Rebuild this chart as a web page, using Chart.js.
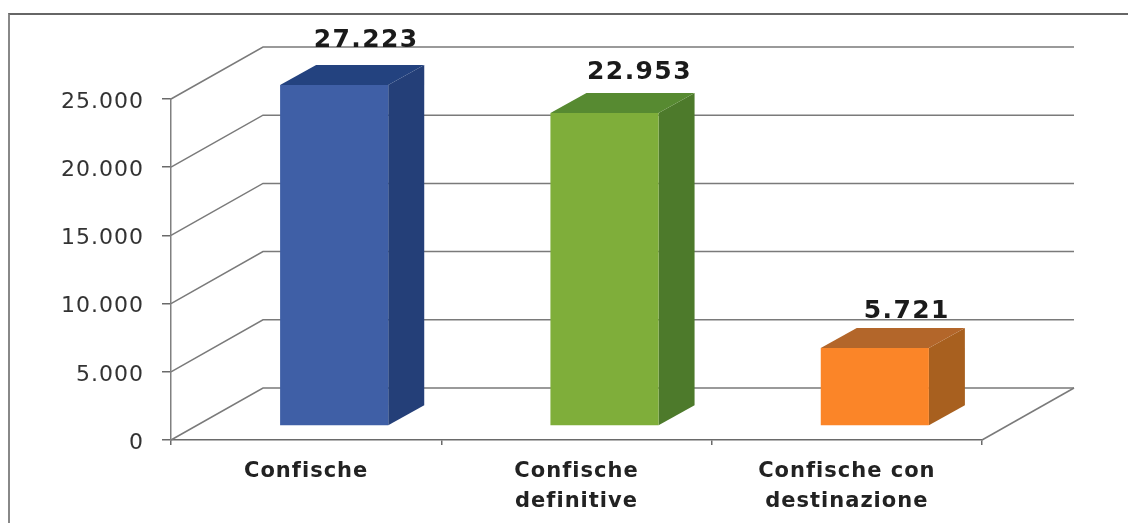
<!DOCTYPE html>
<html>
<head>
<meta charset="utf-8">
<style>
  html, body { margin: 0; padding: 0; background: #fff; overflow: hidden; }
  #frame { position: absolute; left: 8px; top: 13px; right: -5px; bottom: -5px; border-top: 2px solid #666; border-left: 2px solid #888; }
  #chart { position: absolute; left: 0; top: 0; filter: blur(0.5px); }
</style>
<script src="https://cdn.jsdelivr.net/npm/chart.js@4"></script>
</head>
<body>
<div id="frame"></div>
<canvas id="chart" width="1128" height="523"></canvas>
<script>
const categories = [["Confische"], ["Confische", "definitive"], ["Confische con", "destinazione"]];
const confischeValues = [27223, 22953, 5721];
const yTicks = [0, 5000, 10000, 15000, 20000, 25000];

const frontColors = ["#3f5fa6", "#7fae3a", "#fb8528"];
const topColors = ["#23427f", "#578a31", "#b3662a"];
const sideColors = ["#243f78", "#4d7a2b", "#a8601f"];

// wall depth of the fake 3D box, and how far the bars stand off the wall
const wallDx = 92, wallDy = -52;
const barShiftX = 28, barShiftY = -14;
const sideDx = 36, sideDy = -20;
const labelDx = [32, 35, 32];
const labelDy = [-45, -40, -36];

function thousands(v) {
    return String(v).replace(/\B(?=(\d{3})+$)/g, ".");
}

const box3d = {
    id: "box3d",
    beforeDraw(chart) {
        // the scan has wide, loose lettering on both axes
        chart.ctx.letterSpacing = "1px";
    },
    beforeDatasetsDraw(chart) {
        const { ctx, chartArea: a, scales: { y } } = chart;
        ctx.save();
        ctx.strokeStyle = "#7a7a7a";
        ctx.lineWidth = 1.5;
        yTicks.forEach(t => {
            const py = y.getPixelForValue(t);
            ctx.beginPath();
            ctx.moveTo(a.left, py);
            ctx.lineTo(a.left + wallDx, py + wallDy);
            ctx.lineTo(a.right + wallDx, py + wallDy);
            ctx.stroke();
        });
        ctx.beginPath();
        ctx.moveTo(a.right, a.bottom);
        ctx.lineTo(a.right + wallDx, a.bottom + wallDy);
        ctx.stroke();

        // sides and tops, clipped at the axis maximum like the fronts
        const meta = chart.getDatasetMeta(0);
        meta.data.forEach((bar, i) => {
            const right = bar.x + bar.width / 2 + barShiftX;
            const left = bar.x - bar.width / 2 + barShiftX;
            const top = Math.max(bar.y, a.top) + barShiftY;
            const base = bar.base + barShiftY;
            ctx.fillStyle = sideColors[i];
            ctx.beginPath();
            ctx.moveTo(right, top);
            ctx.lineTo(right + sideDx, top + sideDy);
            ctx.lineTo(right + sideDx, base + sideDy);
            ctx.lineTo(right, base);
            ctx.closePath();
            ctx.fill();
            ctx.fillStyle = topColors[i];
            ctx.beginPath();
            ctx.moveTo(left, top);
            ctx.lineTo(left + sideDx, top + sideDy);
            ctx.lineTo(right + sideDx, top + sideDy);
            ctx.lineTo(right, top);
            ctx.closePath();
            ctx.fill();
        });
        ctx.restore();
        ctx.save();
        ctx.translate(barShiftX, barShiftY);
    },
    afterDatasetsDraw(chart) {
        const { ctx, chartArea: a } = chart;
        ctx.restore();
        ctx.save();
        ctx.font = "bold 25px 'DejaVu Sans'";
        ctx.letterSpacing = "1.4px";
        ctx.fillStyle = "#1a1a1a";
        ctx.textAlign = "center";
        ctx.textBaseline = "middle";
        chart.getDatasetMeta(0).data.forEach((bar, i) => {
            const top = Math.max(bar.y, a.top) + barShiftY;
            ctx.fillText(thousands(confischeValues[i]),
                bar.x + barShiftX + labelDx[i], top + labelDy[i]);
        });
        ctx.restore();
    }
};

new Chart(document.getElementById("chart").getContext("2d"), {
    type: "bar",
    data: {
        labels: categories,
        datasets: [{
            data: confischeValues,
            backgroundColor: frontColors,
            barPercentage: 0.4,
            categoryPercentage: 1
        }]
    },
    plugins: [box3d],
    options: {
        responsive: false,
        animation: false,
        layout: { padding: { top: 99, right: 146, left: 0, bottom: 0 } },
        plugins: { legend: { display: false }, tooltip: { enabled: false } },
        scales: {
            x: {
                afterFit(s) { s.height = 83; },
                grid: { drawOnChartArea: false, color: "#6a6a6a", lineWidth: 1.5, tickLength: 5 },
                border: { color: "#6a6a6a", width: 1.5 },
                ticks: { color: "#222", maxRotation: 0, autoSkip: false, padding: 12,
                    font: { family: "'DejaVu Sans'", size: 21, weight: "bold", lineHeight: 1.4 } }
            },
            y: {
                min: 0,
                max: 25000,
                afterFit(s) { s.width = 171; },
                grid: { drawOnChartArea: false, color: "#6a6a6a", lineWidth: 1.5, tickLength: 9 },
                border: { color: "#808080", width: 1.5 },
                ticks: { color: "#333", stepSize: 5000, padding: 18, labelOffset: 3, callback: v => thousands(v),
                    font: { family: "'DejaVu Sans'", size: 22 } }
            }
        }
    }
});
</script>
</body>
</html>
